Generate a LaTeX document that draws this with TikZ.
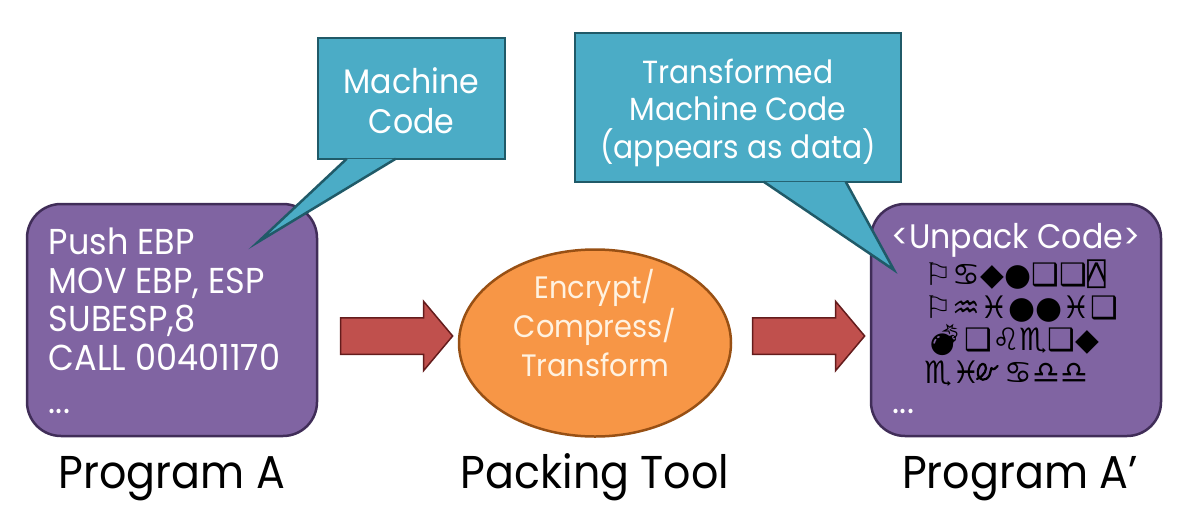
\documentclass[tikz,border=0pt]{standalone}
\usepackage{fontspec}
\setmainfont{Poppins}[FakeStretch=0.93]
\newfontfamily\glyphfont{DejaVu Sans}
\newfontfamily\aplfont{DejaVu Sans Mono}
\newfontfamily\emojifont{Noto Emoji}
\usepackage{tikz}
\usetikzlibrary{calc,positioning,shapes.geometric,shapes.arrows}
\definecolor{progPurple}{RGB}{128,100,162}
\definecolor{progBorder}{RGB}{64,45,88}
\definecolor{tealFill}{RGB}{75,172,198}
\definecolor{tealBorder}{RGB}{32,90,104}
\definecolor{packOrange}{RGB}{247,150,70}
\definecolor{packBorder}{RGB}{152,80,20}
\definecolor{packText}{RGB}{255,242,225}
\definecolor{arrowRed}{RGB}{192,80,77}
\definecolor{arrowBorder}{RGB}{100,28,28}

\tikzset{
  codebox/.style={draw=progBorder, fill=progPurple, line width=2.5pt, rounded corners=34pt,
    minimum width=290pt, minimum height=232pt},
  codetext/.style={text=white, align=left, inner sep=0pt, font=\fontsize{36}{38.5}\selectfont},
  glyphrows/.style={text=black, align=left, inner sep=0pt, font=\glyphfont\fontsize{31}{32.5}\selectfont},
  bubble/.style={draw=tealBorder, fill=tealFill, line width=2.5pt},
  bubbletext/.style={text=white, align=center},
  pointer/.style={draw=tealBorder, fill=tealFill, line width=2.5pt},
  packer/.style={ellipse, draw=packBorder, fill=packOrange, line width=2.5pt,
    minimum width=272pt, minimum height=187pt},
  fatarrow/.style={single arrow, draw=arrowBorder, fill=arrowRed, line width=1.5pt,
    minimum height=112pt, inner sep=17.5pt, single arrow head extend=16.5pt,
    single arrow tip angle=100},
  caption/.style={anchor=base, font=\fontsize{46}{46}\selectfont}
}

\begin{document}
\begin{tikzpicture}[x=1pt,y=-1pt]
\useasboundingbox (0,0) rectangle (1195,528);

% the three stages
\node[codebox] (progA) at (172,320) {};
\node[codetext, anchor=north west] (progAcode) at ($(progA.north west)+(23,25)$)
  {Push EBP\\MOV EBP, ESP\\SUBESP,8\\CALL 00401170\\[5pt]...};

\node[packer] (packer) at (595,343) {};
\node[align=center, text=packText, font=\fontsize{31}{39}\selectfont] (packtext)
  at ($(packer.center)+(0,-20)$) {Encrypt/\\Compress/\\Transform};

\node[codebox] (progB) at (1016,320) {};
\node[anchor=base, text=white, font=\fontsize{34}{34}\selectfont] (unpack)
  at ($(progB.north)+(0,46)$) {<Unpack Code>};
\node[glyphrows, anchor=north west] (garbage) at ($(progB.north west)+(55,57)$)
  {⚐♋◆●❑❑{\aplfont ⍓}\\
   ⚐♒♓●●♓❑\\
   {\emojifont 💣}❑♌♏❑◆\\
   ♏♓\hspace{24pt}♋♎♎};
% script et ornament, drawn by hand (no font has it)
\coordinate (etMark) at (977,381);
\draw[line width=2.2pt, line cap=round, line join=round, shift={(etMark)}, xscale=0.9]
  (0,-2) .. controls (8,-5) and (12,-12) .. (9,-16)
  .. controls (6,-20) and (0,-14) .. (1,-7)
  .. controls (2,0) and (10,1) .. (14,-6)
  -- (16,-13) .. controls (18,-10) and (21,-13) .. (23,-15);
\node[codetext, anchor=base west] (progBdots) at ($(progB.south west)+(23,-24)$) {...};

% arrows between stages
\node[fatarrow] (arrA) at (389,336) {};
\node[fatarrow] (arrB) at (801,336) {};

% callouts
\node[bubble, minimum width=187pt, minimum height=121pt] (mcBox) at (411.5,98.5) {};
\node[bubbletext, font=\fontsize{34}{40}\selectfont] (mcText) at ($(mcBox.center)+(0,2)$) {Machine\\Code};
\coordinate (mcTip) at (258,242);
\filldraw[pointer] ($(mcBox.south west)+(30,-1.5)$) -- (mcTip) -- ($(mcBox.south west)+(79,-1.5)$);

\node[bubble, minimum width=326pt, minimum height=149pt] (tfBox) at (738,107.5) {};
\node[bubbletext, font=\fontsize{32}{37.5}\selectfont] (tfText) at ($(tfBox.center)+(0,5)$)
  {Transformed\\Machine Code\\(appears as data)};
\coordinate (tfTip) at (894,270);
\filldraw[pointer] ($(tfBox.south west)+(190,-1.5)$) -- (tfTip) -- ($(tfBox.south west)+(272,-1.5)$);

% captions
\node[caption] (capA) at ($(progA.south)+(0,51)$) {Program A};
\node[caption] (capP) at ($(packer.south)+(0,51)$) {Packing Tool};
\node[caption] (capB) at ($(progB.south)+(4,51)$) {Program A’};
\end{tikzpicture}
\end{document}
